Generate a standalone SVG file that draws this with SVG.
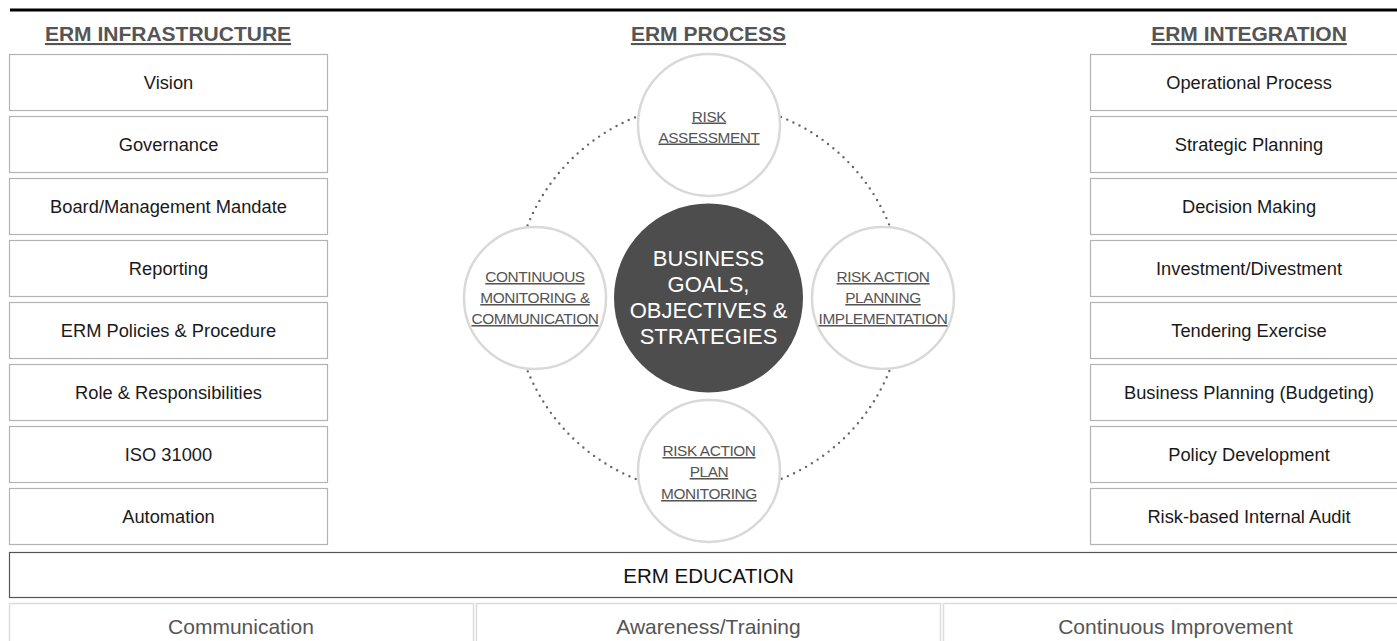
<svg xmlns="http://www.w3.org/2000/svg" width="1397" height="641" viewBox="0 0 1397 641">
<style>
text{font-family:"Liberation Sans",Arial,sans-serif;text-anchor:middle}
.hdr{font-size:21px;font-weight:bold;fill:#555;text-decoration:underline}
.box{fill:#fff;stroke:#b3b3b3;stroke-width:1.2}
.bt{font-size:18.3px;fill:#1a1a1a}
.ring{fill:#fff;stroke:#d9d9d9;stroke-width:2.5}
.ct{font-size:15.4px;letter-spacing:-0.4px;fill:#555;text-decoration:underline}
.core{fill:#4d4d4d}
.coret{font-size:22px;fill:#fff}
.edu{fill:#fff;stroke:#555;stroke-width:1.2}
.edut{font-size:20.5px;fill:#111}
.sub{fill:#fff;stroke:#dcdcdc;stroke-width:1.5}
.subt{font-size:21px;fill:#555}
.dots{fill:none;stroke:#666;stroke-width:2.4;stroke-linecap:round;stroke-dasharray:0 6.8}
</style>
<line x1="10" y1="10" x2="1397" y2="10" stroke="#000" stroke-width="3"/>
<text class="hdr" x="168" y="41">ERM INFRASTRUCTURE</text>
<text class="hdr" x="708.5" y="41">ERM PROCESS</text>
<text class="hdr" x="1249" y="41">ERM INTEGRATION</text>

<g id="connectors">
<circle class="dots" cx="708.5" cy="298" r="195"/>
</g>

<g id="infra-vision"><rect class="box" x="9.5" y="54.5" width="318" height="56"/><text class="bt" x="168.5" y="89">Vision</text></g>
<g id="infra-governance"><rect class="box" x="9.5" y="116.5" width="318" height="56"/><text class="bt" x="168.5" y="151">Governance</text></g>
<g id="infra-mandate"><rect class="box" x="9.5" y="178.5" width="318" height="56"/><text class="bt" x="168.5" y="213">Board/Management Mandate</text></g>
<g id="infra-reporting"><rect class="box" x="9.5" y="240.5" width="318" height="56"/><text class="bt" x="168.5" y="275">Reporting</text></g>
<g id="infra-policies"><rect class="box" x="9.5" y="302.5" width="318" height="56"/><text class="bt" x="168.5" y="337">ERM Policies &amp; Procedure</text></g>
<g id="infra-roles"><rect class="box" x="9.5" y="364.5" width="318" height="56"/><text class="bt" x="168.5" y="399">Role &amp; Responsibilities</text></g>
<g id="infra-iso"><rect class="box" x="9.5" y="426.5" width="318" height="56"/><text class="bt" x="168.5" y="461">ISO 31000</text></g>
<g id="infra-automation"><rect class="box" x="9.5" y="488.5" width="318" height="56"/><text class="bt" x="168.5" y="523">Automation</text></g>

<g id="int-operational"><rect class="box" x="1090.5" y="54.5" width="318" height="56"/><text class="bt" x="1249" y="89">Operational Process</text></g>
<g id="int-strategic"><rect class="box" x="1090.5" y="116.5" width="318" height="56"/><text class="bt" x="1249" y="151">Strategic Planning</text></g>
<g id="int-decision"><rect class="box" x="1090.5" y="178.5" width="318" height="56"/><text class="bt" x="1249" y="213">Decision Making</text></g>
<g id="int-investment"><rect class="box" x="1090.5" y="240.5" width="318" height="56"/><text class="bt" x="1249" y="275">Investment/Divestment</text></g>
<g id="int-tendering"><rect class="box" x="1090.5" y="302.5" width="318" height="56"/><text class="bt" x="1249" y="337">Tendering Exercise</text></g>
<g id="int-business"><rect class="box" x="1090.5" y="364.5" width="318" height="56"/><text class="bt" x="1249" y="399">Business Planning (Budgeting)</text></g>
<g id="int-policy"><rect class="box" x="1090.5" y="426.5" width="318" height="56"/><text class="bt" x="1249" y="461">Policy Development</text></g>
<g id="int-audit"><rect class="box" x="1090.5" y="488.5" width="318" height="56"/><text class="bt" x="1249" y="523">Risk-based Internal Audit</text></g>

<g id="proc-assessment"><circle class="ring" cx="709" cy="125" r="71"/>
<text class="ct" x="709" y="121.5">RISK</text><text class="ct" x="709" y="142.5">ASSESSMENT</text></g>
<g id="proc-monitoring-comm"><circle class="ring" cx="535" cy="298" r="71"/>
<text class="ct" x="535" y="282">CONTINUOUS</text><text class="ct" x="535" y="303">MONITORING &amp;</text><text class="ct" x="535" y="324">COMMUNICATION</text></g>
<g id="proc-planning"><circle class="ring" cx="883" cy="298" r="71"/>
<text class="ct" x="883" y="282">RISK ACTION</text><text class="ct" x="883" y="303">PLANNING</text><text class="ct" x="883" y="324">IMPLEMENTATION</text></g>
<g id="proc-plan-monitoring"><circle class="ring" cx="709" cy="471" r="71"/>
<text class="ct" x="709" y="456">RISK ACTION</text><text class="ct" x="709" y="477">PLAN</text><text class="ct" x="709" y="499">MONITORING</text></g>
<g id="proc-core"><circle class="core" cx="708.5" cy="298" r="94.5"/>
<text class="coret" x="708.5" y="266">BUSINESS</text><text class="coret" x="708.5" y="292">GOALS,</text><text class="coret" x="708.5" y="318">OBJECTIVES &amp;</text><text class="coret" x="708.5" y="344">STRATEGIES</text></g>

<g id="education"><rect class="edu" x="9.5" y="552.5" width="1400" height="45"/><text class="edut" x="708.5" y="583">ERM EDUCATION</text></g>
<g id="edu-communication"><rect class="sub" x="9.5" y="603.5" width="464" height="50"/><text class="subt" x="241" y="634">Communication</text></g>
<g id="edu-awareness"><rect class="sub" x="476.5" y="603.5" width="464" height="50"/><text class="subt" x="708.5" y="634">Awareness/Training</text></g>
<g id="edu-improvement"><rect class="sub" x="943.5" y="603.5" width="465" height="50"/><text class="subt" x="1175.5" y="634">Continuous Improvement</text></g>
</svg>
